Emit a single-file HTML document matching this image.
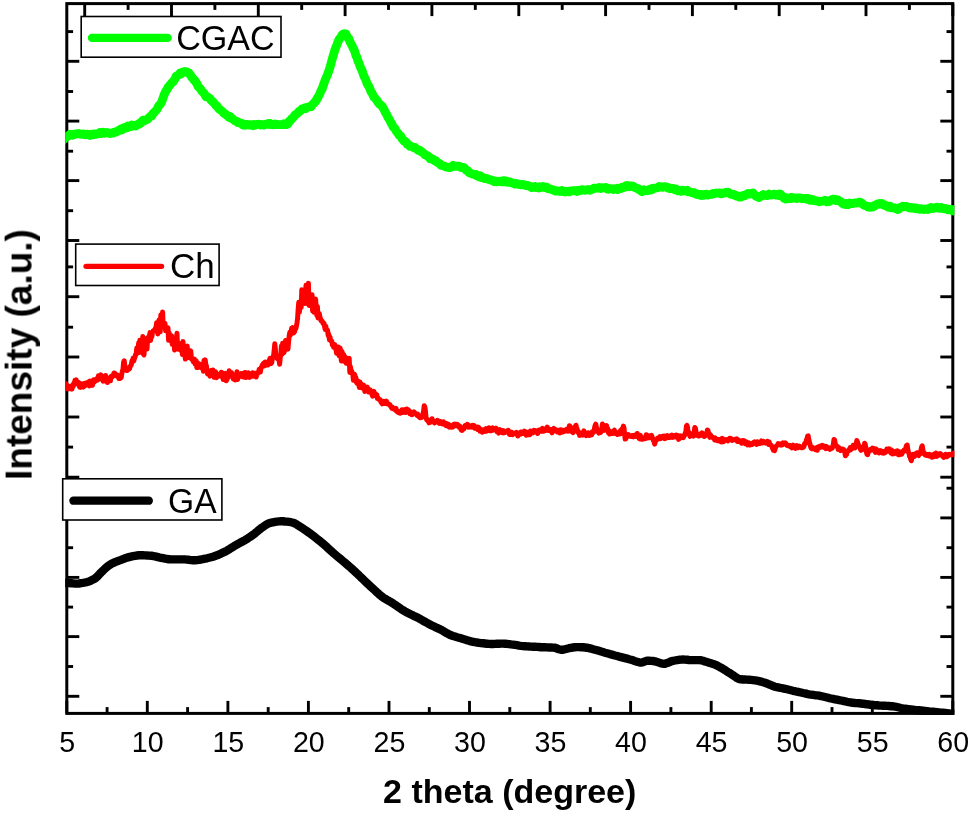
<!DOCTYPE html>
<html><head><meta charset="utf-8"><title>XRD</title>
<style>
html,body{margin:0;padding:0;background:#fff;}
svg{display:block}
text{font-family:"Liberation Sans",sans-serif;fill:#000}
</style></head><body>
<svg width="969" height="816" viewBox="0 0 969 816">
<rect width="969" height="816" fill="#fff"/>
<defs><clipPath id="cp"><rect x="65.2" y="2" width="889.2" height="713.0"/></clipPath></defs>
<!-- frame -->
<rect x="66.8" y="3.6" width="886.0" height="709.8" fill="none" stroke="#000" stroke-width="3.0"/>
<g stroke="#000" stroke-width="2.9" stroke-linecap="butt">
<line x1="66.8" y1="713.4" x2="66.8" y2="700.9"/>
<line x1="107.1" y1="713.4" x2="107.1" y2="707.1"/>
<line x1="147.3" y1="713.4" x2="147.3" y2="700.9"/>
<line x1="187.6" y1="713.4" x2="187.6" y2="707.1"/>
<line x1="227.9" y1="713.4" x2="227.9" y2="700.9"/>
<line x1="268.2" y1="713.4" x2="268.2" y2="707.1"/>
<line x1="308.4" y1="713.4" x2="308.4" y2="700.9"/>
<line x1="348.7" y1="713.4" x2="348.7" y2="707.1"/>
<line x1="389.0" y1="713.4" x2="389.0" y2="700.9"/>
<line x1="429.3" y1="713.4" x2="429.3" y2="707.1"/>
<line x1="469.5" y1="713.4" x2="469.5" y2="700.9"/>
<line x1="509.8" y1="713.4" x2="509.8" y2="707.1"/>
<line x1="550.1" y1="713.4" x2="550.1" y2="700.9"/>
<line x1="590.3" y1="713.4" x2="590.3" y2="707.1"/>
<line x1="630.6" y1="713.4" x2="630.6" y2="700.9"/>
<line x1="670.9" y1="713.4" x2="670.9" y2="707.1"/>
<line x1="711.2" y1="713.4" x2="711.2" y2="700.9"/>
<line x1="751.4" y1="713.4" x2="751.4" y2="707.1"/>
<line x1="791.7" y1="713.4" x2="791.7" y2="700.9"/>
<line x1="832.0" y1="713.4" x2="832.0" y2="707.1"/>
<line x1="872.3" y1="713.4" x2="872.3" y2="700.9"/>
<line x1="912.5" y1="713.4" x2="912.5" y2="707.1"/>
<line x1="952.8" y1="713.4" x2="952.8" y2="700.9"/>
<line x1="84.7" y1="3.6" x2="84.7" y2="16.1"/>
<line x1="171.5" y1="3.6" x2="171.5" y2="16.1"/>
<line x1="128.1" y1="3.6" x2="128.1" y2="9.9"/>
<line x1="258.3" y1="3.6" x2="258.3" y2="16.1"/>
<line x1="214.9" y1="3.6" x2="214.9" y2="9.9"/>
<line x1="345.1" y1="3.6" x2="345.1" y2="16.1"/>
<line x1="301.7" y1="3.6" x2="301.7" y2="9.9"/>
<line x1="431.9" y1="3.6" x2="431.9" y2="16.1"/>
<line x1="388.5" y1="3.6" x2="388.5" y2="9.9"/>
<line x1="518.8" y1="3.6" x2="518.8" y2="16.1"/>
<line x1="475.3" y1="3.6" x2="475.3" y2="9.9"/>
<line x1="605.6" y1="3.6" x2="605.6" y2="16.1"/>
<line x1="562.2" y1="3.6" x2="562.2" y2="9.9"/>
<line x1="692.4" y1="3.6" x2="692.4" y2="16.1"/>
<line x1="649.0" y1="3.6" x2="649.0" y2="9.9"/>
<line x1="779.2" y1="3.6" x2="779.2" y2="16.1"/>
<line x1="735.8" y1="3.6" x2="735.8" y2="9.9"/>
<line x1="866.0" y1="3.6" x2="866.0" y2="16.1"/>
<line x1="822.6" y1="3.6" x2="822.6" y2="9.9"/>
<line x1="952.8" y1="3.6" x2="952.8" y2="16.1"/>
<line x1="909.4" y1="3.6" x2="909.4" y2="9.9"/>
<line x1="66.8" y1="61.3" x2="79.3" y2="61.3"/>
<line x1="952.8" y1="61.3" x2="940.3" y2="61.3"/>
<line x1="66.8" y1="121.1" x2="79.3" y2="121.1"/>
<line x1="952.8" y1="121.1" x2="940.3" y2="121.1"/>
<line x1="66.8" y1="180.6" x2="79.3" y2="180.6"/>
<line x1="952.8" y1="180.6" x2="940.3" y2="180.6"/>
<line x1="66.8" y1="240.5" x2="79.3" y2="240.5"/>
<line x1="952.8" y1="240.5" x2="940.3" y2="240.5"/>
<line x1="66.8" y1="296.7" x2="79.3" y2="296.7"/>
<line x1="952.8" y1="296.7" x2="940.3" y2="296.7"/>
<line x1="66.8" y1="357.0" x2="79.3" y2="357.0"/>
<line x1="952.8" y1="357.0" x2="940.3" y2="357.0"/>
<line x1="66.8" y1="417.0" x2="79.3" y2="417.0"/>
<line x1="952.8" y1="417.0" x2="940.3" y2="417.0"/>
<line x1="66.8" y1="477.2" x2="79.3" y2="477.2"/>
<line x1="952.8" y1="477.2" x2="940.3" y2="477.2"/>
<line x1="66.8" y1="517.9" x2="79.3" y2="517.9"/>
<line x1="952.8" y1="517.9" x2="940.3" y2="517.9"/>
<line x1="66.8" y1="577.4" x2="79.3" y2="577.4"/>
<line x1="952.8" y1="577.4" x2="940.3" y2="577.4"/>
<line x1="66.8" y1="636.6" x2="79.3" y2="636.6"/>
<line x1="952.8" y1="636.6" x2="940.3" y2="636.6"/>
<line x1="66.8" y1="696.3" x2="79.3" y2="696.3"/>
<line x1="952.8" y1="696.3" x2="940.3" y2="696.3"/>
<line x1="66.8" y1="31.6" x2="73.1" y2="31.6"/>
<line x1="952.8" y1="31.6" x2="946.5" y2="31.6"/>
<line x1="66.8" y1="91.5" x2="73.1" y2="91.5"/>
<line x1="952.8" y1="91.5" x2="946.5" y2="91.5"/>
<line x1="66.8" y1="151.2" x2="73.1" y2="151.2"/>
<line x1="952.8" y1="151.2" x2="946.5" y2="151.2"/>
<line x1="66.8" y1="210.7" x2="73.1" y2="210.7"/>
<line x1="952.8" y1="210.7" x2="946.5" y2="210.7"/>
<line x1="66.8" y1="266.9" x2="73.1" y2="266.9"/>
<line x1="952.8" y1="266.9" x2="946.5" y2="266.9"/>
<line x1="66.8" y1="327.2" x2="73.1" y2="327.2"/>
<line x1="952.8" y1="327.2" x2="946.5" y2="327.2"/>
<line x1="66.8" y1="387.1" x2="73.1" y2="387.1"/>
<line x1="952.8" y1="387.1" x2="946.5" y2="387.1"/>
<line x1="66.8" y1="447.1" x2="73.1" y2="447.1"/>
<line x1="952.8" y1="447.1" x2="946.5" y2="447.1"/>
<line x1="66.8" y1="488.2" x2="73.1" y2="488.2"/>
<line x1="952.8" y1="488.2" x2="946.5" y2="488.2"/>
<line x1="66.8" y1="547.7" x2="73.1" y2="547.7"/>
<line x1="952.8" y1="547.7" x2="946.5" y2="547.7"/>
<line x1="66.8" y1="607.1" x2="73.1" y2="607.1"/>
<line x1="952.8" y1="607.1" x2="946.5" y2="607.1"/>
<line x1="66.8" y1="666.5" x2="73.1" y2="666.5"/>
<line x1="952.8" y1="666.5" x2="946.5" y2="666.5"/>
</g>
<!-- curves -->
<g clip-path="url(#cp)" fill="none" stroke-linejoin="round" stroke-linecap="round">
<path d="M64.0,139.4 L65.0,137.0 L66.0,137.5 L67.0,136.5 L68.0,136.0 L69.0,135.6 L70.0,134.3 L71.0,134.7 L72.0,134.2 L73.0,135.3 L74.0,134.4 L75.0,134.0 L76.0,134.0 L77.0,133.7 L78.0,133.5 L79.0,133.8 L80.0,134.1 L81.0,133.8 L82.0,134.4 L83.0,133.9 L84.0,134.1 L85.0,134.8 L86.0,134.5 L87.0,134.1 L88.0,134.3 L89.0,134.7 L90.0,135.4 L91.0,134.4 L92.0,134.4 L93.0,134.8 L94.0,133.8 L95.0,133.9 L96.0,134.3 L97.0,133.9 L98.0,133.5 L99.0,133.6 L100.0,132.3 L101.0,133.6 L102.0,132.6 L103.0,132.3 L104.0,133.2 L105.0,133.3 L106.0,132.8 L107.0,132.5 L108.0,133.0 L109.0,132.9 L110.0,133.6 L111.0,133.3 L112.0,133.0 L113.0,133.2 L114.0,132.4 L115.0,131.8 L116.0,132.1 L117.0,131.7 L118.0,130.9 L119.0,130.2 L120.0,130.3 L121.0,128.8 L122.0,129.7 L123.0,129.2 L124.0,127.8 L125.0,128.2 L126.0,127.3 L127.0,127.7 L128.0,126.0 L129.0,126.2 L130.0,126.7 L131.0,126.7 L132.0,125.1 L133.0,125.6 L134.0,125.9 L135.0,125.3 L136.0,126.1 L137.0,124.6 L138.0,124.7 L139.0,123.4 L140.0,123.7 L141.0,122.2 L142.0,121.3 L143.0,120.1 L144.0,121.1 L145.0,120.3 L146.0,119.8 L147.0,119.5 L148.0,118.7 L149.0,117.6 L150.0,116.7 L151.0,115.8 L152.0,115.8 L153.0,113.4 L154.0,112.6 L155.0,111.5 L156.0,110.5 L157.0,109.4 L158.0,107.2 L159.0,105.4 L160.0,104.6 L161.0,103.3 L162.0,101.0 L163.0,98.1 L164.0,95.1 L165.0,92.9 L166.0,90.8 L167.0,89.6 L168.0,87.4 L169.0,86.4 L170.0,84.9 L171.0,83.9 L172.0,82.4 L173.0,81.9 L174.0,80.3 L175.0,79.0 L176.0,76.3 L177.0,76.0 L178.0,75.1 L179.0,74.9 L180.0,73.1 L181.0,73.9 L182.0,73.4 L183.0,71.9 L184.0,71.7 L185.0,71.5 L186.0,71.7 L187.0,71.9 L188.0,73.0 L189.0,73.0 L190.0,74.7 L191.0,75.7 L192.0,77.6 L193.0,78.5 L194.0,80.2 L195.0,80.6 L196.0,82.5 L197.0,83.8 L198.0,86.3 L199.0,87.3 L200.0,88.3 L201.0,89.6 L202.0,91.4 L203.0,92.2 L204.0,93.3 L205.0,95.0 L206.0,96.7 L207.0,96.5 L208.0,97.2 L209.0,97.8 L210.0,98.5 L211.0,100.2 L212.0,101.2 L213.0,101.8 L214.0,103.1 L215.0,104.2 L216.0,105.5 L217.0,106.0 L218.0,107.7 L219.0,108.9 L220.0,109.5 L221.0,110.5 L222.0,111.2 L223.0,112.2 L224.0,113.5 L225.0,113.7 L226.0,114.5 L227.0,115.6 L228.0,116.2 L229.0,117.4 L230.0,116.4 L231.0,118.3 L232.0,118.4 L233.0,119.2 L234.0,120.1 L235.0,120.8 L236.0,121.3 L237.0,121.4 L238.0,122.6 L239.0,122.3 L240.0,122.9 L241.0,123.8 L242.0,123.5 L243.0,125.0 L244.0,124.7 L245.0,125.3 L246.0,124.5 L247.0,124.4 L248.0,124.8 L249.0,125.1 L250.0,124.6 L251.0,125.1 L252.0,124.9 L253.0,125.6 L254.0,124.6 L255.0,125.3 L256.0,124.5 L257.0,124.3 L258.0,124.4 L259.0,124.1 L260.0,124.7 L261.0,125.0 L262.0,124.6 L263.0,124.8 L264.0,125.2 L265.0,124.5 L266.0,124.4 L267.0,124.2 L268.0,123.5 L269.0,124.6 L270.0,123.4 L271.0,124.5 L272.0,124.2 L273.0,124.8 L274.0,124.3 L275.0,124.0 L276.0,124.6 L277.0,124.3 L278.0,124.6 L279.0,124.7 L280.0,124.7 L281.0,124.7 L282.0,124.4 L283.0,124.6 L284.0,123.7 L285.0,124.4 L286.0,123.7 L287.0,124.5 L288.0,123.8 L289.0,121.3 L290.0,121.0 L291.0,119.7 L292.0,118.2 L293.0,117.9 L294.0,116.4 L295.0,114.8 L296.0,114.4 L297.0,113.5 L298.0,112.8 L299.0,111.3 L300.0,111.2 L301.0,110.5 L302.0,108.9 L303.0,108.5 L304.0,108.3 L305.0,107.8 L306.0,108.6 L307.0,107.7 L308.0,107.0 L309.0,106.8 L310.0,106.6 L311.0,106.8 L312.0,105.0 L313.0,104.1 L314.0,103.2 L315.0,101.7 L316.0,101.3 L317.0,98.6 L318.0,97.4 L319.0,95.3 L320.0,93.6 L321.0,90.5 L322.0,89.4 L323.0,86.0 L324.0,83.5 L325.0,80.4 L326.0,77.9 L327.0,75.8 L328.0,73.3 L329.0,70.3 L330.0,67.4 L331.0,63.7 L332.0,59.7 L333.0,56.4 L334.0,53.0 L335.0,49.6 L336.0,47.0 L337.0,44.6 L338.0,41.8 L339.0,39.5 L340.0,38.2 L341.0,37.1 L342.0,35.0 L343.0,34.1 L344.0,33.6 L345.0,34.4 L346.0,34.0 L347.0,36.3 L348.0,38.0 L349.0,38.8 L350.0,41.9 L351.0,43.7 L352.0,45.4 L353.0,48.0 L354.0,49.5 L355.0,52.4 L356.0,55.9 L357.0,57.3 L358.0,61.1 L359.0,62.9 L360.0,66.2 L361.0,68.5 L362.0,70.2 L363.0,73.4 L364.0,76.3 L365.0,78.1 L366.0,80.4 L367.0,83.4 L368.0,85.1 L369.0,86.7 L370.0,89.1 L371.0,91.7 L372.0,92.9 L373.0,95.3 L374.0,97.3 L375.0,98.2 L376.0,99.2 L377.0,100.5 L378.0,102.3 L379.0,103.7 L380.0,104.3 L381.0,105.3 L382.0,106.0 L383.0,107.8 L384.0,109.4 L385.0,111.7 L386.0,113.4 L387.0,115.2 L388.0,117.5 L389.0,118.9 L390.0,120.6 L391.0,122.9 L392.0,124.1 L393.0,126.7 L394.0,127.8 L395.0,128.6 L396.0,130.8 L397.0,132.1 L398.0,133.1 L399.0,135.2 L400.0,135.7 L401.0,136.4 L402.0,138.8 L403.0,139.4 L404.0,141.4 L405.0,141.4 L406.0,142.1 L407.0,144.2 L408.0,143.9 L409.0,145.2 L410.0,146.4 L411.0,146.3 L412.0,146.6 L413.0,147.1 L414.0,147.8 L415.0,147.5 L416.0,148.6 L417.0,149.1 L418.0,150.3 L419.0,149.9 L420.0,150.2 L421.0,151.6 L422.0,151.8 L423.0,152.9 L424.0,153.6 L425.0,154.9 L426.0,155.0 L427.0,156.0 L428.0,155.9 L429.0,157.0 L430.0,158.7 L431.0,158.3 L432.0,158.8 L433.0,159.1 L434.0,160.4 L435.0,160.8 L436.0,160.7 L437.0,162.1 L438.0,162.6 L439.0,163.5 L440.0,163.6 L441.0,165.4 L442.0,165.4 L443.0,165.8 L444.0,166.0 L445.0,166.4 L446.0,167.1 L447.0,166.8 L448.0,167.5 L449.0,167.4 L450.0,167.6 L451.0,167.2 L452.0,166.5 L453.0,165.4 L454.0,166.2 L455.0,166.4 L456.0,166.1 L457.0,166.4 L458.0,166.1 L459.0,166.3 L460.0,166.3 L461.0,167.6 L462.0,167.4 L463.0,167.4 L464.0,167.4 L465.0,168.6 L466.0,170.1 L467.0,170.5 L468.0,170.9 L469.0,172.6 L470.0,173.1 L471.0,173.3 L472.0,173.7 L473.0,174.2 L474.0,174.3 L475.0,174.8 L476.0,174.5 L477.0,175.9 L478.0,175.8 L479.0,177.0 L480.0,175.6 L481.0,177.2 L482.0,177.8 L483.0,177.5 L484.0,178.2 L485.0,178.6 L486.0,178.8 L487.0,178.5 L488.0,178.9 L489.0,179.6 L490.0,180.0 L491.0,179.8 L492.0,180.2 L493.0,180.8 L494.0,181.6 L495.0,181.0 L496.0,181.1 L497.0,181.8 L498.0,181.2 L499.0,181.4 L500.0,181.6 L501.0,181.8 L502.0,181.0 L503.0,181.9 L504.0,180.7 L505.0,181.9 L506.0,181.0 L507.0,181.3 L508.0,182.3 L509.0,181.9 L510.0,182.0 L511.0,182.4 L512.0,183.1 L513.0,183.1 L514.0,183.4 L515.0,184.1 L516.0,183.4 L517.0,183.7 L518.0,183.8 L519.0,184.6 L520.0,184.6 L521.0,184.9 L522.0,184.4 L523.0,184.5 L524.0,185.1 L525.0,184.8 L526.0,185.6 L527.0,185.8 L528.0,185.5 L529.0,186.1 L530.0,186.3 L531.0,187.4 L532.0,187.7 L533.0,187.0 L534.0,187.2 L535.0,186.5 L536.0,187.7 L537.0,187.7 L538.0,187.2 L539.0,188.0 L540.0,186.8 L541.0,187.3 L542.0,187.3 L543.0,186.6 L544.0,187.5 L545.0,187.7 L546.0,187.0 L547.0,187.4 L548.0,188.7 L549.0,188.9 L550.0,188.7 L551.0,189.3 L552.0,189.6 L553.0,189.8 L554.0,190.4 L555.0,190.4 L556.0,191.2 L557.0,191.1 L558.0,190.9 L559.0,191.3 L560.0,191.5 L561.0,191.3 L562.0,190.5 L563.0,191.5 L564.0,191.2 L565.0,191.9 L566.0,191.2 L567.0,191.4 L568.0,191.2 L569.0,191.8 L570.0,191.1 L571.0,190.8 L572.0,191.0 L573.0,190.6 L574.0,190.8 L575.0,190.6 L576.0,190.7 L577.0,191.4 L578.0,190.2 L579.0,190.4 L580.0,190.2 L581.0,190.5 L582.0,189.6 L583.0,189.8 L584.0,190.0 L585.0,190.3 L586.0,190.0 L587.0,189.7 L588.0,189.5 L589.0,190.0 L590.0,190.3 L591.0,189.6 L592.0,189.3 L593.0,189.1 L594.0,188.1 L595.0,188.2 L596.0,188.1 L597.0,188.3 L598.0,188.0 L599.0,187.4 L600.0,188.4 L601.0,188.5 L602.0,187.6 L603.0,187.9 L604.0,187.8 L605.0,188.2 L606.0,187.3 L607.0,189.0 L608.0,188.3 L609.0,189.2 L610.0,188.8 L611.0,188.7 L612.0,188.9 L613.0,189.5 L614.0,188.7 L615.0,189.0 L616.0,189.0 L617.0,188.4 L618.0,189.6 L619.0,189.0 L620.0,188.4 L621.0,188.5 L622.0,187.1 L623.0,187.1 L624.0,187.6 L625.0,187.1 L626.0,185.6 L627.0,185.5 L628.0,185.8 L629.0,186.7 L630.0,185.9 L631.0,186.0 L632.0,186.5 L633.0,186.1 L634.0,186.9 L635.0,187.6 L636.0,188.0 L637.0,188.4 L638.0,188.4 L639.0,189.6 L640.0,189.8 L641.0,191.1 L642.0,191.7 L643.0,190.5 L644.0,189.8 L645.0,190.4 L646.0,190.6 L647.0,190.8 L648.0,190.6 L649.0,189.5 L650.0,189.3 L651.0,189.9 L652.0,188.5 L653.0,189.1 L654.0,188.1 L655.0,188.2 L656.0,188.0 L657.0,187.8 L658.0,187.6 L659.0,186.5 L660.0,187.0 L661.0,186.7 L662.0,186.8 L663.0,187.3 L664.0,186.7 L665.0,186.7 L666.0,186.9 L667.0,187.4 L668.0,188.1 L669.0,187.7 L670.0,188.8 L671.0,188.6 L672.0,188.6 L673.0,188.4 L674.0,189.3 L675.0,189.8 L676.0,188.9 L677.0,190.5 L678.0,190.9 L679.0,190.4 L680.0,190.6 L681.0,191.4 L682.0,191.2 L683.0,190.3 L684.0,190.8 L685.0,190.9 L686.0,191.0 L687.0,190.4 L688.0,191.8 L689.0,191.4 L690.0,192.0 L691.0,192.2 L692.0,192.9 L693.0,192.7 L694.0,192.7 L695.0,193.6 L696.0,194.2 L697.0,193.7 L698.0,194.8 L699.0,194.6 L700.0,194.4 L701.0,195.5 L702.0,194.5 L703.0,195.3 L704.0,194.6 L705.0,195.0 L706.0,194.2 L707.0,194.3 L708.0,195.1 L709.0,194.6 L710.0,194.5 L711.0,194.1 L712.0,194.4 L713.0,193.4 L714.0,193.3 L715.0,193.6 L716.0,193.1 L717.0,193.0 L718.0,193.2 L719.0,193.1 L720.0,193.0 L721.0,193.8 L722.0,193.4 L723.0,193.5 L724.0,192.9 L725.0,192.7 L726.0,192.3 L727.0,192.9 L728.0,192.2 L729.0,192.9 L730.0,193.6 L731.0,194.3 L732.0,194.4 L733.0,194.1 L734.0,195.2 L735.0,195.0 L736.0,196.0 L737.0,195.7 L738.0,196.4 L739.0,197.0 L740.0,196.6 L741.0,197.1 L742.0,196.0 L743.0,195.5 L744.0,195.9 L745.0,195.7 L746.0,194.4 L747.0,194.4 L748.0,193.5 L749.0,193.9 L750.0,194.2 L751.0,193.6 L752.0,193.3 L753.0,192.9 L754.0,194.2 L755.0,195.3 L756.0,196.2 L757.0,196.8 L758.0,196.4 L759.0,197.6 L760.0,196.4 L761.0,196.0 L762.0,196.0 L763.0,194.5 L764.0,195.3 L765.0,195.1 L766.0,195.3 L767.0,195.7 L768.0,195.2 L769.0,194.1 L770.0,194.8 L771.0,195.0 L772.0,195.0 L773.0,194.3 L774.0,194.2 L775.0,195.1 L776.0,195.1 L777.0,194.9 L778.0,194.1 L779.0,195.7 L780.0,194.0 L781.0,194.7 L782.0,196.2 L783.0,196.8 L784.0,198.4 L785.0,198.1 L786.0,199.2 L787.0,197.9 L788.0,198.5 L789.0,198.4 L790.0,197.7 L791.0,198.5 L792.0,197.4 L793.0,197.7 L794.0,198.0 L795.0,197.8 L796.0,198.2 L797.0,198.5 L798.0,198.0 L799.0,197.9 L800.0,198.0 L801.0,198.1 L802.0,198.7 L803.0,198.3 L804.0,198.7 L805.0,198.5 L806.0,198.3 L807.0,199.2 L808.0,198.5 L809.0,199.3 L810.0,200.2 L811.0,199.4 L812.0,200.2 L813.0,199.8 L814.0,200.6 L815.0,200.3 L816.0,200.9 L817.0,200.9 L818.0,201.2 L819.0,201.8 L820.0,201.2 L821.0,201.4 L822.0,201.1 L823.0,201.0 L824.0,200.7 L825.0,200.3 L826.0,201.1 L827.0,201.8 L828.0,201.2 L829.0,200.6 L830.0,201.3 L831.0,200.1 L832.0,199.7 L833.0,199.2 L834.0,199.1 L835.0,199.4 L836.0,200.5 L837.0,199.9 L838.0,200.0 L839.0,200.8 L840.0,201.6 L841.0,201.6 L842.0,203.1 L843.0,203.9 L844.0,204.1 L845.0,204.5 L846.0,203.6 L847.0,203.4 L848.0,204.6 L849.0,204.4 L850.0,203.1 L851.0,203.7 L852.0,203.4 L853.0,203.5 L854.0,203.2 L855.0,202.8 L856.0,203.0 L857.0,202.9 L858.0,202.8 L859.0,202.1 L860.0,202.2 L861.0,203.1 L862.0,203.2 L863.0,204.5 L864.0,205.2 L865.0,205.5 L866.0,205.7 L867.0,206.3 L868.0,207.1 L869.0,206.5 L870.0,207.3 L871.0,207.2 L872.0,206.7 L873.0,207.0 L874.0,205.6 L875.0,205.9 L876.0,204.6 L877.0,204.3 L878.0,203.8 L879.0,204.2 L880.0,203.4 L881.0,203.8 L882.0,203.4 L883.0,204.7 L884.0,205.3 L885.0,205.0 L886.0,206.0 L887.0,205.9 L888.0,207.0 L889.0,206.4 L890.0,206.1 L891.0,207.9 L892.0,207.6 L893.0,207.6 L894.0,208.1 L895.0,208.0 L896.0,208.8 L897.0,208.5 L898.0,209.6 L899.0,209.0 L900.0,207.6 L901.0,207.2 L902.0,207.2 L903.0,206.2 L904.0,206.8 L905.0,206.7 L906.0,206.4 L907.0,206.6 L908.0,207.2 L909.0,207.7 L910.0,208.0 L911.0,207.5 L912.0,208.1 L913.0,207.6 L914.0,208.3 L915.0,207.9 L916.0,208.8 L917.0,208.1 L918.0,208.4 L919.0,208.9 L920.0,209.3 L921.0,208.6 L922.0,209.1 L923.0,209.4 L924.0,209.5 L925.0,209.0 L926.0,209.3 L927.0,209.0 L928.0,209.6 L929.0,209.0 L930.0,208.0 L931.0,207.4 L932.0,208.2 L933.0,208.5 L934.0,207.9 L935.0,208.1 L936.0,207.5 L937.0,207.1 L938.0,208.1 L939.0,207.9 L940.0,208.3 L941.0,207.5 L942.0,208.3 L943.0,208.1 L944.0,208.9 L945.0,208.5 L946.0,208.6 L947.0,208.8 L948.0,209.8 L949.0,209.5 L950.0,209.4 L951.0,209.5 L952.0,209.7 L953.0,211.0 L954.0,209.6 L955.0,210.1 L956.0,210.9 L957.0,211.1" stroke="#00ff00" stroke-width="8.8"/>
<path d="M63.0,384.2 L63.6,384.9 L64.2,384.0 L64.8,383.2 L65.4,384.4 L66.0,383.7 L66.6,386.0 L67.2,388.7 L67.8,385.8 L68.4,386.2 L69.0,388.7 L69.6,388.8 L70.2,388.3 L70.8,386.3 L71.4,387.9 L72.0,389.1 L72.6,385.3 L73.2,386.6 L73.8,383.3 L74.4,383.0 L75.0,380.3 L75.6,381.9 L76.2,379.9 L76.8,383.3 L77.4,384.0 L78.0,384.3 L78.6,382.3 L79.2,385.8 L79.8,387.3 L80.4,387.4 L81.0,383.9 L81.6,385.1 L82.2,383.9 L82.8,384.0 L83.4,387.1 L84.0,383.5 L84.6,384.5 L85.2,385.8 L85.8,383.1 L86.4,383.9 L87.0,384.3 L87.6,384.2 L88.2,382.0 L88.8,384.0 L89.4,385.9 L90.0,380.9 L90.6,384.6 L91.2,383.1 L91.8,381.6 L92.4,385.4 L93.0,383.2 L93.6,379.7 L94.2,381.3 L94.8,381.7 L95.4,380.0 L96.0,380.8 L96.6,378.9 L97.2,379.4 L97.8,379.9 L98.4,375.8 L99.0,376.8 L99.6,375.6 L100.2,376.8 L100.8,374.9 L101.4,376.4 L102.0,377.6 L102.6,380.2 L103.2,381.2 L103.8,376.5 L104.4,377.8 L105.0,380.9 L105.6,375.4 L106.2,378.5 L106.8,379.4 L107.4,382.5 L108.0,381.0 L108.6,378.4 L109.2,377.9 L109.8,377.8 L110.4,380.8 L111.0,376.4 L111.6,376.1 L112.2,376.8 L112.8,375.5 L113.4,375.0 L114.0,373.0 L114.6,374.4 L115.2,373.5 L115.8,375.8 L116.4,375.3 L117.0,374.8 L117.6,376.5 L118.2,375.6 L118.8,378.4 L119.4,377.2 L120.0,378.4 L120.6,375.3 L121.2,377.7 L121.8,373.7 L122.4,371.3 L123.0,369.3 L123.6,362.2 L124.2,360.8 L124.8,365.9 L125.4,366.8 L126.0,369.4 L126.6,370.6 L127.2,370.6 L127.8,369.7 L128.4,369.3 L129.0,369.3 L129.6,368.5 L130.2,366.4 L130.8,365.7 L131.4,364.2 L132.0,360.8 L132.6,361.6 L133.2,358.0 L133.8,361.0 L134.4,358.3 L135.0,357.1 L135.6,354.4 L136.2,354.4 L136.8,348.1 L137.4,348.7 L138.0,352.1 L138.6,343.1 L139.2,352.6 L139.8,340.3 L140.4,351.6 L141.0,342.7 L141.6,351.5 L142.2,347.4 L142.8,336.5 L143.4,354.1 L144.0,354.9 L144.6,345.4 L145.2,343.7 L145.8,343.7 L146.4,338.4 L147.0,349.1 L147.6,339.4 L148.2,340.9 L148.8,336.4 L149.4,336.2 L150.0,332.6 L150.6,340.5 L151.2,334.6 L151.8,336.8 L152.4,333.4 L153.0,331.1 L153.6,331.3 L154.2,330.1 L154.8,330.2 L155.4,328.3 L156.0,327.4 L156.6,322.7 L157.2,323.8 L157.8,333.9 L158.4,322.9 L159.0,320.0 L159.6,326.4 L160.2,331.8 L160.8,315.0 L161.4,321.6 L162.0,318.8 L162.6,312.0 L163.2,327.0 L163.8,323.8 L164.4,325.7 L165.0,323.4 L165.6,330.7 L166.2,327.8 L166.8,330.7 L167.4,327.6 L168.0,327.9 L168.6,340.3 L169.2,332.7 L169.8,337.6 L170.4,336.8 L171.0,335.5 L171.6,336.0 L172.2,344.3 L172.8,339.0 L173.4,340.7 L174.0,342.2 L174.6,350.1 L175.2,346.5 L175.8,344.3 L176.4,338.1 L177.0,333.3 L177.6,348.4 L178.2,349.0 L178.8,342.9 L179.4,347.5 L180.0,349.2 L180.6,349.9 L181.2,350.7 L181.8,344.0 L182.4,354.5 L183.0,341.6 L183.6,352.5 L184.2,351.7 L184.8,354.2 L185.4,359.1 L186.0,357.9 L186.6,347.8 L187.2,346.2 L187.8,356.0 L188.4,349.9 L189.0,354.2 L189.6,357.8 L190.2,350.7 L190.8,351.1 L191.4,358.8 L192.0,359.3 L192.6,359.6 L193.2,361.6 L193.8,360.1 L194.4,359.2 L195.0,364.0 L195.6,362.3 L196.2,360.8 L196.8,367.4 L197.4,365.9 L198.0,367.4 L198.6,363.5 L199.2,364.7 L199.8,364.1 L200.4,364.6 L201.0,367.6 L201.6,365.2 L202.2,368.1 L202.8,368.1 L203.4,371.3 L204.0,360.5 L204.6,362.5 L205.2,359.9 L205.8,364.4 L206.4,365.9 L207.0,370.5 L207.6,374.0 L208.2,373.3 L208.8,374.1 L209.4,373.6 L210.0,376.1 L210.6,374.1 L211.2,370.6 L211.8,372.7 L212.4,370.1 L213.0,370.0 L213.6,373.0 L214.2,377.3 L214.8,374.6 L215.4,371.8 L216.0,372.5 L216.6,377.7 L217.2,375.4 L217.8,375.0 L218.4,374.5 L219.0,374.3 L219.6,375.9 L220.2,375.3 L220.8,374.7 L221.4,372.2 L222.0,376.8 L222.6,374.4 L223.2,379.4 L223.8,373.7 L224.4,376.6 L225.0,376.9 L225.6,373.4 L226.2,380.8 L226.8,380.0 L227.4,374.9 L228.0,377.8 L228.6,376.6 L229.2,370.7 L229.8,375.8 L230.4,374.9 L231.0,375.3 L231.6,372.6 L232.2,374.9 L232.8,375.4 L233.4,379.0 L234.0,377.0 L234.6,376.2 L235.2,380.0 L235.8,375.0 L236.4,375.3 L237.0,371.7 L237.6,379.4 L238.2,377.6 L238.8,377.0 L239.4,376.1 L240.0,374.6 L240.6,374.7 L241.2,373.5 L241.8,373.4 L242.4,373.8 L243.0,377.0 L243.6,374.8 L244.2,373.6 L244.8,372.6 L245.4,372.6 L246.0,377.6 L246.6,375.4 L247.2,374.7 L247.8,374.1 L248.4,372.8 L249.0,375.2 L249.6,377.4 L250.2,375.1 L250.8,375.5 L251.4,375.6 L252.0,376.1 L252.6,372.7 L253.2,374.9 L253.8,373.5 L254.4,376.3 L255.0,373.3 L255.6,375.5 L256.2,377.0 L256.8,373.7 L257.4,372.8 L258.0,373.3 L258.6,372.0 L259.2,369.4 L259.8,370.7 L260.4,372.0 L261.0,367.9 L261.6,367.2 L262.2,365.1 L262.8,366.5 L263.4,363.4 L264.0,362.9 L264.6,365.9 L265.2,362.0 L265.8,364.5 L266.4,364.9 L267.0,362.8 L267.6,363.1 L268.2,364.9 L268.8,361.4 L269.4,360.2 L270.0,358.2 L270.6,360.5 L271.2,363.5 L271.8,362.5 L272.4,357.8 L273.0,357.6 L273.6,355.5 L274.2,350.4 L274.8,343.8 L275.4,349.8 L276.0,357.1 L276.6,357.6 L277.2,358.5 L277.8,358.9 L278.4,357.1 L279.0,358.9 L279.6,364.3 L280.2,357.9 L280.8,354.6 L281.4,346.1 L282.0,354.0 L282.6,343.3 L283.2,344.6 L283.8,352.9 L284.4,351.4 L285.0,347.1 L285.6,340.4 L286.2,344.4 L286.8,342.2 L287.4,345.8 L288.0,349.1 L288.6,341.4 L289.2,335.8 L289.8,332.3 L290.4,335.1 L291.0,333.1 L291.6,328.2 L292.2,331.8 L292.8,327.6 L293.4,333.1 L294.0,332.4 L294.6,331.7 L295.2,327.9 L295.8,328.7 L296.4,326.1 L297.0,322.7 L297.6,318.4 L298.2,308.7 L298.8,302.3 L299.4,312.1 L300.0,303.6 L300.6,304.3 L301.2,307.5 L301.8,289.7 L302.4,294.5 L303.0,299.6 L303.6,300.2 L304.2,294.2 L304.8,303.6 L305.4,296.9 L306.0,285.3 L306.6,287.5 L307.2,301.2 L307.8,299.0 L308.4,283.3 L309.0,305.5 L309.6,301.1 L310.2,305.5 L310.8,296.8 L311.4,297.9 L312.0,294.7 L312.6,310.9 L313.2,301.8 L313.8,312.2 L314.4,302.2 L315.0,307.8 L315.6,299.1 L316.2,307.4 L316.8,315.4 L317.4,306.4 L318.0,317.9 L318.6,316.3 L319.2,313.1 L319.8,316.7 L320.4,318.4 L321.0,320.7 L321.6,320.6 L322.2,321.0 L322.8,323.1 L323.4,322.8 L324.0,323.5 L324.6,326.8 L325.2,329.4 L325.8,326.1 L326.4,329.8 L327.0,329.7 L327.6,330.4 L328.2,335.4 L328.8,334.3 L329.4,339.8 L330.0,336.9 L330.6,340.7 L331.2,340.8 L331.8,341.0 L332.4,345.1 L333.0,344.4 L333.6,347.2 L334.2,346.5 L334.8,344.6 L335.4,348.2 L336.0,349.6 L336.6,353.3 L337.2,348.3 L337.8,351.9 L338.4,346.9 L339.0,355.7 L339.6,350.2 L340.2,348.2 L340.8,355.5 L341.4,360.9 L342.0,351.5 L342.6,353.9 L343.2,355.9 L343.8,354.8 L344.4,361.4 L345.0,357.0 L345.6,357.7 L346.2,363.3 L346.8,358.3 L347.4,363.4 L348.0,358.9 L348.6,359.2 L349.2,358.5 L349.8,372.4 L350.4,366.8 L351.0,370.2 L351.6,371.0 L352.2,373.0 L352.8,374.2 L353.4,380.2 L354.0,374.1 L354.6,374.3 L355.2,376.8 L355.8,377.3 L356.4,382.3 L357.0,383.3 L357.6,381.0 L358.2,381.2 L358.8,383.9 L359.4,387.5 L360.0,382.1 L360.6,386.5 L361.2,383.9 L361.8,388.0 L362.4,384.9 L363.0,386.9 L363.6,385.2 L364.2,386.5 L364.8,391.4 L365.4,390.7 L366.0,388.8 L366.6,388.5 L367.2,387.1 L367.8,390.8 L368.4,392.0 L369.0,392.1 L369.6,392.1 L370.2,389.9 L370.8,392.0 L371.4,391.9 L372.0,394.7 L372.6,396.1 L373.2,392.2 L373.8,391.5 L374.4,393.7 L375.0,393.3 L375.6,393.8 L376.2,395.9 L376.8,394.7 L377.4,398.5 L378.0,397.9 L378.6,399.2 L379.2,399.3 L379.8,399.4 L380.4,400.1 L381.0,402.2 L381.6,402.4 L382.2,403.8 L382.8,403.5 L383.4,401.4 L384.0,403.5 L384.6,401.6 L385.2,402.7 L385.8,403.3 L386.4,401.1 L387.0,403.9 L387.6,404.0 L388.2,403.8 L388.8,403.9 L389.4,404.7 L390.0,404.8 L390.6,406.5 L391.2,406.9 L391.8,408.2 L392.4,407.1 L393.0,408.8 L393.6,408.8 L394.2,408.7 L394.8,408.6 L395.4,410.1 L396.0,408.3 L396.6,411.2 L397.2,411.6 L397.8,412.2 L398.4,412.7 L399.0,411.7 L399.6,412.2 L400.2,413.1 L400.8,412.6 L401.4,412.0 L402.0,409.7 L402.6,411.8 L403.2,412.5 L403.8,412.3 L404.4,411.6 L405.0,409.6 L405.6,412.5 L406.2,411.1 L406.8,409.0 L407.4,411.7 L408.0,409.6 L408.6,410.1 L409.2,411.1 L409.8,413.6 L410.4,411.9 L411.0,412.9 L411.6,414.7 L412.2,414.7 L412.8,413.0 L413.4,413.0 L414.0,412.0 L414.6,412.6 L415.2,413.9 L415.8,414.0 L416.4,414.0 L417.0,415.3 L417.6,414.0 L418.2,415.3 L418.8,416.6 L419.4,416.9 L420.0,417.7 L420.6,417.2 L421.2,416.7 L421.8,417.4 L422.4,415.9 L423.0,413.5 L423.6,411.1 L424.2,405.8 L424.8,406.8 L425.4,410.6 L426.0,417.4 L426.6,419.7 L427.2,420.3 L427.8,419.6 L428.4,421.4 L429.0,422.8 L429.6,422.1 L430.2,420.8 L430.8,421.2 L431.4,421.9 L432.0,418.8 L432.6,420.8 L433.2,421.6 L433.8,421.7 L434.4,422.9 L435.0,422.1 L435.6,421.2 L436.2,421.2 L436.8,421.8 L437.4,420.4 L438.0,421.1 L438.6,422.2 L439.2,423.3 L439.8,421.3 L440.4,421.6 L441.0,422.1 L441.6,423.6 L442.2,422.4 L442.8,424.0 L443.4,421.7 L444.0,422.7 L444.6,423.1 L445.2,424.7 L445.8,425.5 L446.4,423.4 L447.0,424.4 L447.6,426.0 L448.2,425.2 L448.8,424.4 L449.4,427.3 L450.0,426.7 L450.6,426.7 L451.2,425.6 L451.8,427.1 L452.4,425.6 L453.0,426.9 L453.6,424.4 L454.2,424.2 L454.8,425.2 L455.4,424.1 L456.0,425.7 L456.6,425.4 L457.2,424.3 L457.8,425.6 L458.4,425.4 L459.0,427.3 L459.6,426.1 L460.2,426.9 L460.8,429.2 L461.4,430.2 L462.0,430.4 L462.6,428.3 L463.2,428.1 L463.8,429.1 L464.4,426.9 L465.0,425.5 L465.6,426.4 L466.2,426.5 L466.8,425.1 L467.4,424.3 L468.0,424.8 L468.6,427.3 L469.2,425.8 L469.8,426.5 L470.4,426.8 L471.0,427.1 L471.6,425.9 L472.2,426.8 L472.8,425.4 L473.4,426.2 L474.0,425.7 L474.6,428.2 L475.2,427.4 L475.8,427.0 L476.4,427.9 L477.0,428.4 L477.6,429.5 L478.2,427.1 L478.8,427.7 L479.4,428.4 L480.0,431.1 L480.6,430.4 L481.2,429.6 L481.8,430.7 L482.4,432.2 L483.0,430.0 L483.6,429.8 L484.2,431.4 L484.8,430.4 L485.4,430.3 L486.0,428.7 L486.6,431.1 L487.2,430.8 L487.8,429.7 L488.4,430.2 L489.0,427.7 L489.6,430.8 L490.2,430.1 L490.8,430.7 L491.4,430.8 L492.0,429.5 L492.6,427.9 L493.2,430.1 L493.8,428.9 L494.4,429.5 L495.0,429.3 L495.6,429.7 L496.2,428.2 L496.8,431.7 L497.4,430.9 L498.0,432.0 L498.6,433.0 L499.2,431.2 L499.8,429.6 L500.4,430.8 L501.0,430.9 L501.6,431.9 L502.2,432.7 L502.8,430.6 L503.4,432.9 L504.0,430.9 L504.6,432.7 L505.2,432.3 L505.8,432.0 L506.4,432.1 L507.0,431.5 L507.6,431.4 L508.2,430.3 L508.8,432.2 L509.4,434.4 L510.0,434.6 L510.6,434.1 L511.2,433.5 L511.8,432.2 L512.4,434.7 L513.0,433.4 L513.6,433.5 L514.2,433.3 L514.8,433.7 L515.4,433.0 L516.0,433.5 L516.6,432.5 L517.2,433.4 L517.8,436.0 L518.4,433.9 L519.0,433.7 L519.6,434.3 L520.2,434.3 L520.8,432.0 L521.4,432.6 L522.0,433.5 L522.6,432.4 L523.2,432.0 L523.8,433.4 L524.4,431.1 L525.0,432.4 L525.6,432.3 L526.2,435.2 L526.8,432.1 L527.4,433.7 L528.0,433.7 L528.6,434.7 L529.2,434.2 L529.8,434.6 L530.4,431.0 L531.0,433.2 L531.6,432.0 L532.2,431.5 L532.8,432.9 L533.4,431.3 L534.0,430.3 L534.6,431.9 L535.2,430.6 L535.8,431.3 L536.4,432.3 L537.0,432.1 L537.6,433.4 L538.2,431.5 L538.8,430.0 L539.4,430.7 L540.0,430.3 L540.6,429.7 L541.2,431.2 L541.8,429.9 L542.4,428.4 L543.0,431.3 L543.6,430.4 L544.2,431.0 L544.8,430.6 L545.4,430.5 L546.0,428.3 L546.6,428.1 L547.2,427.2 L547.8,428.7 L548.4,430.3 L549.0,429.1 L549.6,430.7 L550.2,430.7 L550.8,431.3 L551.4,429.6 L552.0,432.9 L552.6,431.1 L553.2,429.3 L553.8,428.5 L554.4,429.9 L555.0,430.2 L555.6,429.7 L556.2,431.0 L556.8,430.5 L557.4,431.9 L558.0,430.4 L558.6,431.0 L559.2,432.0 L559.8,432.9 L560.4,429.7 L561.0,430.5 L561.6,430.2 L562.2,432.2 L562.8,430.2 L563.4,431.0 L564.0,431.5 L564.6,430.4 L565.2,430.4 L565.8,430.9 L566.4,429.3 L567.0,429.8 L567.6,430.9 L568.2,431.2 L568.8,429.5 L569.4,425.7 L570.0,426.2 L570.6,428.9 L571.2,430.9 L571.8,431.7 L572.4,431.2 L573.0,432.6 L573.6,430.7 L574.2,428.8 L574.8,426.9 L575.4,427.1 L576.0,425.2 L576.6,428.3 L577.2,429.1 L577.8,432.4 L578.4,431.4 L579.0,432.5 L579.6,435.4 L580.2,434.8 L580.8,433.9 L581.4,434.5 L582.0,434.6 L582.6,435.1 L583.2,432.6 L583.8,430.9 L584.4,432.7 L585.0,433.4 L585.6,433.9 L586.2,435.6 L586.8,434.7 L587.4,435.1 L588.0,432.7 L588.6,434.6 L589.2,435.4 L589.8,433.9 L590.4,433.3 L591.0,433.2 L591.6,435.0 L592.2,431.8 L592.8,432.4 L593.4,432.5 L594.0,431.5 L594.6,427.5 L595.2,425.4 L595.8,424.2 L596.4,427.2 L597.0,429.9 L597.6,430.3 L598.2,432.0 L598.8,433.1 L599.4,430.9 L600.0,431.6 L600.6,432.4 L601.2,429.5 L601.8,428.7 L602.4,424.1 L603.0,425.0 L603.6,427.4 L604.2,430.4 L604.8,429.5 L605.4,429.7 L606.0,426.6 L606.6,425.6 L607.2,429.3 L607.8,428.6 L608.4,432.8 L609.0,432.0 L609.6,434.0 L610.2,432.7 L610.8,431.7 L611.4,432.8 L612.0,433.4 L612.6,432.5 L613.2,433.0 L613.8,431.8 L614.4,430.1 L615.0,433.5 L615.6,433.4 L616.2,433.0 L616.8,433.2 L617.4,434.5 L618.0,432.8 L618.6,432.3 L619.2,432.6 L619.8,433.9 L620.4,430.6 L621.0,433.5 L621.6,430.9 L622.2,428.7 L622.8,428.6 L623.4,426.1 L624.0,428.0 L624.6,434.3 L625.2,439.1 L625.8,438.9 L626.4,435.0 L627.0,435.0 L627.6,435.6 L628.2,434.5 L628.8,436.2 L629.4,435.9 L630.0,435.5 L630.6,435.7 L631.2,436.5 L631.8,436.4 L632.4,435.5 L633.0,435.4 L633.6,436.8 L634.2,435.4 L634.8,435.8 L635.4,435.9 L636.0,434.9 L636.6,436.5 L637.2,433.5 L637.8,435.8 L638.4,435.1 L639.0,438.3 L639.6,438.8 L640.2,435.2 L640.8,436.8 L641.4,439.0 L642.0,439.3 L642.6,439.2 L643.2,438.2 L643.8,438.7 L644.4,438.7 L645.0,437.6 L645.6,438.5 L646.2,434.8 L646.8,437.6 L647.4,435.5 L648.0,437.9 L648.6,436.6 L649.2,436.0 L649.8,437.7 L650.4,436.3 L651.0,436.3 L651.6,435.5 L652.2,437.5 L652.8,438.5 L653.4,440.4 L654.0,441.2 L654.6,444.1 L655.2,442.4 L655.8,440.4 L656.4,439.8 L657.0,439.8 L657.6,438.0 L658.2,438.0 L658.8,437.9 L659.4,437.9 L660.0,436.7 L660.6,438.7 L661.2,437.0 L661.8,437.9 L662.4,436.3 L663.0,437.5 L663.6,437.3 L664.2,436.1 L664.8,438.6 L665.4,436.7 L666.0,438.2 L666.6,437.3 L667.2,435.7 L667.8,436.3 L668.4,437.5 L669.0,437.3 L669.6,437.5 L670.2,437.2 L670.8,435.5 L671.4,437.2 L672.0,435.1 L672.6,437.4 L673.2,435.9 L673.8,435.8 L674.4,436.3 L675.0,436.9 L675.6,435.1 L676.2,435.0 L676.8,436.0 L677.4,435.3 L678.0,436.5 L678.6,439.4 L679.2,436.6 L679.8,438.3 L680.4,435.9 L681.0,437.4 L681.6,436.4 L682.2,436.3 L682.8,436.6 L683.4,437.6 L684.0,435.7 L684.6,435.4 L685.2,433.2 L685.8,431.9 L686.4,426.2 L687.0,425.3 L687.6,427.7 L688.2,434.0 L688.8,432.2 L689.4,434.7 L690.0,436.3 L690.6,435.0 L691.2,434.6 L691.8,435.0 L692.4,433.7 L693.0,435.1 L693.6,436.0 L694.2,432.5 L694.8,427.4 L695.4,428.2 L696.0,431.6 L696.6,435.1 L697.2,433.9 L697.8,434.2 L698.4,436.0 L699.0,436.1 L699.6,434.9 L700.2,434.1 L700.8,433.6 L701.4,434.3 L702.0,432.8 L702.6,435.4 L703.2,433.8 L703.8,434.9 L704.4,436.5 L705.0,435.9 L705.6,433.5 L706.2,434.7 L706.8,433.2 L707.4,430.0 L708.0,430.6 L708.6,433.5 L709.2,433.7 L709.8,437.4 L710.4,434.7 L711.0,435.7 L711.6,436.7 L712.2,437.0 L712.8,437.7 L713.4,438.1 L714.0,438.2 L714.6,439.9 L715.2,437.9 L715.8,440.0 L716.4,439.7 L717.0,440.6 L717.6,440.7 L718.2,439.5 L718.8,439.6 L719.4,441.0 L720.0,440.5 L720.6,439.4 L721.2,441.9 L721.8,441.9 L722.4,438.4 L723.0,440.1 L723.6,441.7 L724.2,440.5 L724.8,440.0 L725.4,439.7 L726.0,439.5 L726.6,440.0 L727.2,439.7 L727.8,440.9 L728.4,439.6 L729.0,439.4 L729.6,438.5 L730.2,439.5 L730.8,438.5 L731.4,439.2 L732.0,440.4 L732.6,439.7 L733.2,439.9 L733.8,439.7 L734.4,439.4 L735.0,439.3 L735.6,439.2 L736.2,440.4 L736.8,438.9 L737.4,441.5 L738.0,440.6 L738.6,440.2 L739.2,440.9 L739.8,441.0 L740.4,442.1 L741.0,441.5 L741.6,443.3 L742.2,441.6 L742.8,440.6 L743.4,441.8 L744.0,440.7 L744.6,442.5 L745.2,443.7 L745.8,443.5 L746.4,441.8 L747.0,442.5 L747.6,444.9 L748.2,443.4 L748.8,443.0 L749.4,444.1 L750.0,445.0 L750.6,444.7 L751.2,443.8 L751.8,444.1 L752.4,444.4 L753.0,443.0 L753.6,442.3 L754.2,443.1 L754.8,441.9 L755.4,442.6 L756.0,442.7 L756.6,444.4 L757.2,441.7 L757.8,442.3 L758.4,442.2 L759.0,442.8 L759.6,443.4 L760.2,442.0 L760.8,441.7 L761.4,440.9 L762.0,441.6 L762.6,442.9 L763.2,442.4 L763.8,441.5 L764.4,442.1 L765.0,442.5 L765.6,443.0 L766.2,442.1 L766.8,442.5 L767.4,441.3 L768.0,442.0 L768.6,444.5 L769.2,442.0 L769.8,443.7 L770.4,444.8 L771.0,445.1 L771.6,445.7 L772.2,447.4 L772.8,448.8 L773.4,450.2 L774.0,449.5 L774.6,450.7 L775.2,448.5 L775.8,446.8 L776.4,446.0 L777.0,445.4 L777.6,445.1 L778.2,443.5 L778.8,444.6 L779.4,444.7 L780.0,444.6 L780.6,445.0 L781.2,443.7 L781.8,443.8 L782.4,444.8 L783.0,442.8 L783.6,444.3 L784.2,443.8 L784.8,444.0 L785.4,442.9 L786.0,443.7 L786.6,444.6 L787.2,445.5 L787.8,445.8 L788.4,445.3 L789.0,445.6 L789.6,445.4 L790.2,446.6 L790.8,446.1 L791.4,446.9 L792.0,447.9 L792.6,446.4 L793.2,445.2 L793.8,446.0 L794.4,445.7 L795.0,446.1 L795.6,448.4 L796.2,447.3 L796.8,445.6 L797.4,447.3 L798.0,447.7 L798.6,446.2 L799.2,446.0 L799.8,446.4 L800.4,447.1 L801.0,447.4 L801.6,447.8 L802.2,447.7 L802.8,447.4 L803.4,447.3 L804.0,446.2 L804.6,443.6 L805.2,443.9 L805.8,442.8 L806.4,440.0 L807.0,438.9 L807.6,436.2 L808.2,435.8 L808.8,439.8 L809.4,441.9 L810.0,444.1 L810.6,446.7 L811.2,448.2 L811.8,448.6 L812.4,447.3 L813.0,448.7 L813.6,448.8 L814.2,448.1 L814.8,448.9 L815.4,449.6 L816.0,448.1 L816.6,447.6 L817.2,450.3 L817.8,448.0 L818.4,447.0 L819.0,447.9 L819.6,447.6 L820.2,446.2 L820.8,447.2 L821.4,445.9 L822.0,445.4 L822.6,446.5 L823.2,447.1 L823.8,445.9 L824.4,446.9 L825.0,446.7 L825.6,448.6 L826.2,446.3 L826.8,448.4 L827.4,447.3 L828.0,447.4 L828.6,448.5 L829.2,448.9 L829.8,449.4 L830.4,448.6 L831.0,447.7 L831.6,447.6 L832.2,448.1 L832.8,446.6 L833.4,443.9 L834.0,439.4 L834.6,439.9 L835.2,443.8 L835.8,445.8 L836.4,445.7 L837.0,446.4 L837.6,446.4 L838.2,449.5 L838.8,447.5 L839.4,449.7 L840.0,449.4 L840.6,450.6 L841.2,450.1 L841.8,449.0 L842.4,448.9 L843.0,449.2 L843.6,449.6 L844.2,450.0 L844.8,452.4 L845.4,455.8 L846.0,453.4 L846.6,454.5 L847.2,451.7 L847.8,451.3 L848.4,451.0 L849.0,449.6 L849.6,450.0 L850.2,447.5 L850.8,449.8 L851.4,447.9 L852.0,448.7 L852.6,447.8 L853.2,445.3 L853.8,446.0 L854.4,446.7 L855.0,447.9 L855.6,446.3 L856.2,444.7 L856.8,440.4 L857.4,441.8 L858.0,443.8 L858.6,445.2 L859.2,447.0 L859.8,446.6 L860.4,449.3 L861.0,450.4 L861.6,449.3 L862.2,449.7 L862.8,449.0 L863.4,447.0 L864.0,447.6 L864.6,443.3 L865.2,444.2 L865.8,447.5 L866.4,452.0 L867.0,454.3 L867.6,454.7 L868.2,452.1 L868.8,450.2 L869.4,451.1 L870.0,450.2 L870.6,449.4 L871.2,449.2 L871.8,449.8 L872.4,448.2 L873.0,448.8 L873.6,448.6 L874.2,450.6 L874.8,450.9 L875.4,452.4 L876.0,448.9 L876.6,449.8 L877.2,451.5 L877.8,450.5 L878.4,450.6 L879.0,453.0 L879.6,451.2 L880.2,450.6 L880.8,450.7 L881.4,452.7 L882.0,452.9 L882.6,451.3 L883.2,451.7 L883.8,453.2 L884.4,453.0 L885.0,451.4 L885.6,452.2 L886.2,451.7 L886.8,449.0 L887.4,450.3 L888.0,451.0 L888.6,450.0 L889.2,448.8 L889.8,450.6 L890.4,451.9 L891.0,453.0 L891.6,450.0 L892.2,454.0 L892.8,451.3 L893.4,453.4 L894.0,453.7 L894.6,453.4 L895.2,452.6 L895.8,451.3 L896.4,453.1 L897.0,451.9 L897.6,450.9 L898.2,454.7 L898.8,453.6 L899.4,454.7 L900.0,452.0 L900.6,454.3 L901.2,454.3 L901.8,454.1 L902.4,452.4 L903.0,451.0 L903.6,451.7 L904.2,449.9 L904.8,449.7 L905.4,450.3 L906.0,447.1 L906.6,445.4 L907.2,445.1 L907.8,449.5 L908.4,452.2 L909.0,453.3 L909.6,456.4 L910.2,457.0 L910.8,459.6 L911.4,460.7 L912.0,457.0 L912.6,456.1 L913.2,454.3 L913.8,455.3 L914.4,456.5 L915.0,454.1 L915.6,454.7 L916.2,453.4 L916.8,452.9 L917.4,452.7 L918.0,455.1 L918.6,455.5 L919.2,454.3 L919.8,453.2 L920.4,453.7 L921.0,450.0 L921.6,447.1 L922.2,445.8 L922.8,449.2 L923.4,453.1 L924.0,453.7 L924.6,454.5 L925.2,453.7 L925.8,455.2 L926.4,454.4 L927.0,455.5 L927.6,454.8 L928.2,455.7 L928.8,456.0 L929.4,454.3 L930.0,454.9 L930.6,454.8 L931.2,456.3 L931.8,457.2 L932.4,456.4 L933.0,455.3 L933.6,456.8 L934.2,454.0 L934.8,456.4 L935.4,454.3 L936.0,453.1 L936.6,456.4 L937.2,456.1 L937.8,453.9 L938.4,455.0 L939.0,454.7 L939.6,455.0 L940.2,453.5 L940.8,454.1 L941.4,455.2 L942.0,455.1 L942.6,456.2 L943.2,455.6 L943.8,457.4 L944.4,455.3 L945.0,456.2 L945.6,454.3 L946.2,454.7 L946.8,456.8 L947.4,454.7 L948.0,455.9 L948.6,455.3 L949.2,454.4 L949.8,454.8 L950.4,454.5 L951.0,454.3 L951.6,455.1 L952.2,454.8 L952.8,453.6 L953.4,453.1 L954.0,453.9 L954.6,453.3 L955.2,453.9 L955.8,454.6 L956.4,453.7 L957.0,453.0 L957.6,452.9" stroke="#ff0000" stroke-width="5.0"/>
<path d="M63.0,583.0 L65.0,583.0 L67.0,583.0 L69.0,583.1 L71.0,583.2 L73.0,583.4 L75.0,583.6 L77.0,583.6 L79.0,583.5 L81.0,583.2 L83.0,582.9 L85.0,582.5 L87.0,582.1 L89.0,581.5 L91.0,580.6 L93.0,579.6 L95.0,578.5 L97.0,576.8 L99.0,574.6 L101.0,572.5 L103.0,570.6 L105.0,568.6 L107.0,566.8 L109.0,565.3 L111.0,564.1 L113.0,563.1 L115.0,562.2 L117.0,561.4 L119.0,560.6 L121.0,559.9 L123.0,559.1 L125.0,558.3 L127.0,557.6 L129.0,557.1 L131.0,556.6 L133.0,556.2 L135.0,555.8 L137.0,555.5 L139.0,555.3 L141.0,555.3 L143.0,555.3 L145.0,555.4 L147.0,555.5 L149.0,555.6 L151.0,555.7 L153.0,556.0 L155.0,556.4 L157.0,556.9 L159.0,557.4 L161.0,557.8 L163.0,558.2 L165.0,558.6 L167.0,559.0 L169.0,559.2 L171.0,559.4 L173.0,559.4 L175.0,559.4 L177.0,559.4 L179.0,559.4 L181.0,559.4 L183.0,559.4 L185.0,559.4 L187.0,559.6 L189.0,559.8 L191.0,560.1 L193.0,560.3 L195.0,560.3 L197.0,560.1 L199.0,559.8 L201.0,559.5 L203.0,559.1 L205.0,558.7 L207.0,558.3 L209.0,557.8 L211.0,557.3 L213.0,556.7 L215.0,556.0 L217.0,555.3 L219.0,554.5 L221.0,553.6 L223.0,552.6 L225.0,551.7 L227.0,550.6 L229.0,549.4 L231.0,548.1 L233.0,546.9 L235.0,545.6 L237.0,544.5 L239.0,543.4 L241.0,542.3 L243.0,541.2 L245.0,540.1 L247.0,538.9 L249.0,537.6 L251.0,536.2 L253.0,534.8 L255.0,533.3 L257.0,531.6 L259.0,529.8 L261.0,528.3 L263.0,526.9 L265.0,525.6 L267.0,524.3 L269.0,523.3 L271.0,522.7 L273.0,522.3 L275.0,521.9 L277.0,521.6 L279.0,521.4 L281.0,521.3 L283.0,521.3 L285.0,521.5 L287.0,521.6 L289.0,521.9 L291.0,522.2 L293.0,522.7 L295.0,523.5 L297.0,524.7 L299.0,526.0 L301.0,527.3 L303.0,528.6 L305.0,529.9 L307.0,531.3 L309.0,532.7 L311.0,534.2 L313.0,535.7 L315.0,537.2 L317.0,538.8 L319.0,540.3 L321.0,542.0 L323.0,543.6 L325.0,545.4 L327.0,547.2 L329.0,549.1 L331.0,550.9 L333.0,552.7 L335.0,554.4 L337.0,556.1 L339.0,557.8 L341.0,559.4 L343.0,561.1 L345.0,562.8 L347.0,564.5 L349.0,566.2 L351.0,568.0 L353.0,569.7 L355.0,571.6 L357.0,573.5 L359.0,575.4 L361.0,577.4 L363.0,579.3 L365.0,581.2 L367.0,583.1 L369.0,585.0 L371.0,586.9 L373.0,588.7 L375.0,590.5 L377.0,592.4 L379.0,594.2 L381.0,595.9 L383.0,597.4 L385.0,598.7 L387.0,599.9 L389.0,601.0 L391.0,602.2 L393.0,603.4 L395.0,604.7 L397.0,606.1 L399.0,607.5 L401.0,608.9 L403.0,610.2 L405.0,611.4 L407.0,612.5 L409.0,613.5 L411.0,614.5 L413.0,615.4 L415.0,616.4 L417.0,617.3 L419.0,618.4 L421.0,619.5 L423.0,620.7 L425.0,621.8 L427.0,622.9 L429.0,624.0 L431.0,625.1 L433.0,626.0 L435.0,626.9 L437.0,627.9 L439.0,628.8 L441.0,629.8 L443.0,630.9 L445.0,632.1 L447.0,633.3 L449.0,634.4 L451.0,635.3 L453.0,636.0 L455.0,636.6 L457.0,637.2 L459.0,637.7 L461.0,638.3 L463.0,638.9 L465.0,639.6 L467.0,640.2 L469.0,640.8 L471.0,641.4 L473.0,641.8 L475.0,642.2 L477.0,642.5 L479.0,642.8 L481.0,643.1 L483.0,643.3 L485.0,643.5 L487.0,643.7 L489.0,643.9 L491.0,644.0 L493.0,644.0 L495.0,643.9 L497.0,643.8 L499.0,643.7 L501.0,643.6 L503.0,643.6 L505.0,643.7 L507.0,643.9 L509.0,644.1 L511.0,644.4 L513.0,644.6 L515.0,644.9 L517.0,645.2 L519.0,645.6 L521.0,645.9 L523.0,646.1 L525.0,646.2 L527.0,646.4 L529.0,646.5 L531.0,646.6 L533.0,646.7 L535.0,646.8 L537.0,646.9 L539.0,647.0 L541.0,647.2 L543.0,647.3 L545.0,647.3 L547.0,647.4 L549.0,647.5 L551.0,647.5 L553.0,647.6 L555.0,647.8 L557.0,648.5 L559.0,649.3 L561.0,649.8 L563.0,649.7 L565.0,649.2 L567.0,648.7 L569.0,648.2 L571.0,647.8 L573.0,647.5 L575.0,647.2 L577.0,647.1 L579.0,647.1 L581.0,647.2 L583.0,647.3 L585.0,647.5 L587.0,647.7 L589.0,648.1 L591.0,648.6 L593.0,649.2 L595.0,649.7 L597.0,650.2 L599.0,650.8 L601.0,651.4 L603.0,652.1 L605.0,652.7 L607.0,653.2 L609.0,653.8 L611.0,654.4 L613.0,654.9 L615.0,655.5 L617.0,656.0 L619.0,656.6 L621.0,657.1 L623.0,657.6 L625.0,658.1 L627.0,658.6 L629.0,659.2 L631.0,659.7 L633.0,660.3 L635.0,661.1 L637.0,661.8 L639.0,662.3 L641.0,662.6 L643.0,662.2 L645.0,661.4 L647.0,660.7 L649.0,660.7 L651.0,660.9 L653.0,661.0 L655.0,661.3 L657.0,661.9 L659.0,662.6 L661.0,663.3 L663.0,663.7 L665.0,663.7 L667.0,663.1 L669.0,662.3 L671.0,661.4 L673.0,660.9 L675.0,660.5 L677.0,660.1 L679.0,659.8 L681.0,659.6 L683.0,659.5 L685.0,659.6 L687.0,659.8 L689.0,660.0 L691.0,660.1 L693.0,660.1 L695.0,660.1 L697.0,660.1 L699.0,660.1 L701.0,660.3 L703.0,660.8 L705.0,661.5 L707.0,662.1 L709.0,662.7 L711.0,663.3 L713.0,663.9 L715.0,664.7 L717.0,665.5 L719.0,666.6 L721.0,667.7 L723.0,668.9 L725.0,670.1 L727.0,671.4 L729.0,672.7 L731.0,673.9 L733.0,675.2 L735.0,676.6 L737.0,678.0 L739.0,679.0 L741.0,679.3 L743.0,679.5 L745.0,679.5 L747.0,679.6 L749.0,679.7 L751.0,679.9 L753.0,680.1 L755.0,680.4 L757.0,680.7 L759.0,681.1 L761.0,681.6 L763.0,682.2 L765.0,682.8 L767.0,683.5 L769.0,684.3 L771.0,685.2 L773.0,686.0 L775.0,686.7 L777.0,687.2 L779.0,687.6 L781.0,688.0 L783.0,688.4 L785.0,688.8 L787.0,689.3 L789.0,689.8 L791.0,690.3 L793.0,690.8 L795.0,691.2 L797.0,691.7 L799.0,692.1 L801.0,692.5 L803.0,693.0 L805.0,693.4 L807.0,693.9 L809.0,694.3 L811.0,694.6 L813.0,694.9 L815.0,695.2 L817.0,695.4 L819.0,695.7 L821.0,696.1 L823.0,696.5 L825.0,697.0 L827.0,697.5 L829.0,698.1 L831.0,698.5 L833.0,698.9 L835.0,699.3 L837.0,699.7 L839.0,700.1 L841.0,700.5 L843.0,700.9 L845.0,701.3 L847.0,701.8 L849.0,702.2 L851.0,702.5 L853.0,702.8 L855.0,703.0 L857.0,703.1 L859.0,703.3 L861.0,703.5 L863.0,703.7 L865.0,704.0 L867.0,704.3 L869.0,704.5 L871.0,704.8 L873.0,705.0 L875.0,705.2 L877.0,705.3 L879.0,705.5 L881.0,705.6 L883.0,705.7 L885.0,705.8 L887.0,705.9 L889.0,706.0 L891.0,706.2 L893.0,706.3 L895.0,706.6 L897.0,707.0 L899.0,707.5 L901.0,708.0 L903.0,708.4 L905.0,708.7 L907.0,709.0 L909.0,709.3 L911.0,709.5 L913.0,709.7 L915.0,710.0 L917.0,710.2 L919.0,710.3 L921.0,710.5 L923.0,710.7 L925.0,710.9 L927.0,711.1 L929.0,711.4 L931.0,711.6 L933.0,711.8 L935.0,712.0 L937.0,712.2 L939.0,712.4 L941.0,712.6 L943.0,712.8 L945.0,713.0 L947.0,713.2 L949.0,713.4 L951.0,713.6 L953.0,713.8 L955.0,714.0 L957.0,714.2" stroke="#000" stroke-width="8.4"/>
</g>
<!-- legends -->
<g stroke="#000" stroke-width="1.6" fill="#fff">
<rect x="81.2" y="16.5" width="199.8" height="40.7"/>
<rect x="75.7" y="244.1" width="143.4" height="41.4"/>
<rect x="62.7" y="478.8" width="159.2" height="41.2"/>
</g>
<g stroke-linecap="round" fill="none">
<line x1="92" y1="37.9" x2="167.6" y2="37.9" stroke="#00ff00" stroke-width="8.4"/>
<line x1="86" y1="266.3" x2="161.6" y2="266.3" stroke="#ff0000" stroke-width="5.2"/>
<line x1="73.4" y1="500.7" x2="148.8" y2="500.7" stroke="#000" stroke-width="8.3"/>
</g>
<g opacity="0.999">
<g font-size="35px">
<text transform="translate(176.2,50) scale(0.975,1)">CGAC</text>
<text x="170" y="278">Ch</text>
<text transform="translate(168,513) scale(0.96,1)">GA</text>
</g>
<!-- tick labels -->
<g font-size="28.6px" text-anchor="middle"><text x="67.2" y="752.0">5</text><text x="147.7" y="752.0">10</text><text x="228.3" y="752.0">15</text><text x="308.8" y="752.0">20</text><text x="389.4" y="752.0">25</text><text x="469.9" y="752.0">30</text><text x="550.5" y="752.0">35</text><text x="631.0" y="752.0">40</text><text x="711.6" y="752.0">45</text><text x="792.1" y="752.0">50</text><text x="872.7" y="752.0">55</text><text x="953.2" y="752.0">60</text></g>
<!-- axis titles -->
<text x="509.7" y="802.6" font-size="34px" font-weight="bold" text-anchor="middle">2 theta (degree)</text>
<text transform="translate(31.6,354.5) rotate(-90)" font-size="37px" font-weight="bold" text-anchor="middle">Intensity (a.u.)</text>
</g>
</svg>
</body></html>
